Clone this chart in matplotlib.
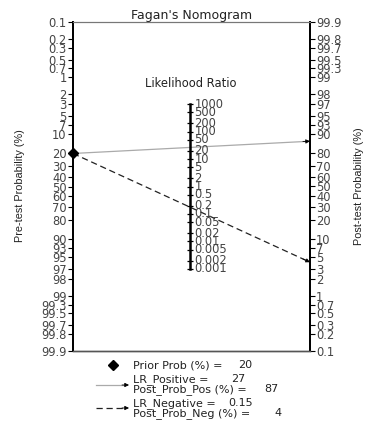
import numpy as np
import matplotlib
matplotlib.use('Agg')
import matplotlib.pyplot as plt

plt.rcParams['font.family'] = ['DejaVu Sans']

# 数据
prior_prob = 20
lr_positive = 27
post_prob_pos = 87
lr_negative = 0.15
post_prob_neg = 4

pre_ticks = [0.1, 0.2, 0.3, 0.5, 0.7, 1, 2, 3, 5, 7, 10, 20, 30, 40, 50, 60, 70, 80,
             90, 93, 95, 97, 98, 99, 99.3, 99.5, 99.7, 99.8, 99.9]
post_ticks = [99.9, 99.8, 99.7, 99.5, 99.3, 99, 98, 97, 95, 93, 90, 80, 70, 60, 50, 40,
              30, 20, 10, 7, 5, 3, 2, 1, 0.7, 0.5, 0.3, 0.2, 0.1]
lr_ticks = [1000, 500, 200, 100, 50, 20, 10, 5, 2, 1, 0.5, 0.2, 0.1, 0.05, 0.02, 0.01,
            0.005, 0.002, 0.001]


def logit(p):
    p = np.asarray(p, dtype=float) / 100.0
    return np.log(p / (1 - p))


def fmt(v):
    return ('%g' % v)


def v_pre(p):
    return -logit(p)


def v_post(p):
    return logit(p)


def v_lr(lr):
    return np.log(np.asarray(lr, dtype=float)) / 2.0


W, H = 366, 422
fig = plt.figure(figsize=(W / 100, H / 100), dpi=100)
ax = fig.add_axes([73 / W, 71 / H, 237 / W, 329 / H])

V = float(logit(99.9))
ax.set_xlim(0, 1)
ax.set_ylim(-V, V)
ax.set_xticks([])

tick_color = '#444444'
txt_color = '#222222'
fs = 8.3

ax.set_yticks(v_pre(pre_ticks))
ax.set_yticklabels([fmt(p) for p in pre_ticks])
ax.tick_params(axis='y', direction='out', length=3.5, width=0.8, labelsize=fs,
               labelcolor=tick_color, pad=1)

ax2 = ax.twinx()
ax2.set_ylim(-V, V)
ax2.set_yticks(v_post(post_ticks))
ax2.set_yticklabels([fmt(p) for p in post_ticks])
ax2.tick_params(axis='y', direction='out', length=3.5, width=0.8, labelsize=fs,
                labelcolor=tick_color, pad=1)

# 轴标题
yc = 1 - 186 / H
fig.text(20 / W, yc, 'Pre-test Probability (%)', rotation=90, fontsize=7.8,
         ha='center', va='center', color=txt_color, family='Liberation Sans')
fig.text(359 / W, yc, 'Post-test Probability (%)', rotation=90, fontsize=7.8,
         ha='center', va='center', color=txt_color, family='Liberation Sans')

for a in (ax, ax2):
    a.spines['top'].set_color('#777777')
    a.spines['bottom'].set_color('#555555')
    a.spines['left'].set_linewidth(1.3)
    a.spines['right'].set_linewidth(1.3)
    a.spines['top'].set_linewidth(0.8)
    a.spines['bottom'].set_linewidth(1.0)

ax.set_title("Fagan's Nomogram", fontsize=9, pad=2, color=txt_color)

# 中间的似然比轴
xm = 0.495
lr_v = v_lr(lr_ticks)
ax.plot([xm, xm], [lr_v.min(), lr_v.max()], color='black', lw=1.8, zorder=3)
ax.hlines(lr_v, xm - 0.012, xm + 0.012, color='black', lw=0.9, zorder=3)
for lr, v in zip(lr_ticks, lr_v):
    ax.text(xm + 0.018, v, fmt(lr), fontsize=fs, color=tick_color,
            ha='left', va='center', zorder=3)
ax.text(xm, v_lr(1000) + 0.6, 'Likelihood Ratio', fontsize=fs, ha='center',
        va='bottom', color=txt_color)

# 连线
y0 = v_pre(prior_prob)
y_pos = v_post(post_prob_pos)
y_neg = v_post(post_prob_neg)
ax.plot([0, 1], [y0, y_pos], color='#aaaaaa', lw=0.9, zorder=2)
ax.plot([0, 1], [y0, y_neg], color='#222222', lw=0.9, dashes=(5, 3), zorder=2)
for y1 in (y_pos, y_neg):
    ax.annotate('', xy=(1, y1), xytext=(0.97, y0 + 0.97 * (y1 - y0)),
                arrowprops=dict(arrowstyle='-|>', color='black', lw=0.6,
                                mutation_scale=6, shrinkA=0, shrinkB=0),
                zorder=4, annotation_clip=False)
ax.plot([0], [y0], marker='D', color='black', ms=5, clip_on=False, zorder=5)

# 图例区域
lg = fig.add_axes([0, 0, 1, 1], zorder=-1)
lg.set_xlim(0, W)
lg.set_ylim(H, 0)
lg.axis('off')
lfs = 8
lg.plot([113], [365], marker='D', color='black', ms=5)
lg.text(133, 365, 'Prior Prob (%) =', fontsize=lfs, va='center', color=txt_color)
lg.text(238, 365, str(prior_prob), fontsize=lfs, va='center', color=txt_color)

lg.plot([96, 124], [385, 385], color='#aaaaaa', lw=0.9)
lg.annotate('', xy=(129, 385), xytext=(122, 385),
            arrowprops=dict(arrowstyle='-|>', color='black', lw=0.6,
                            mutation_scale=6, shrinkA=0, shrinkB=0))
lg.text(133, 380, 'LR_Positive =', fontsize=lfs, va='center', color=txt_color)
lg.text(231, 379.5, str(lr_positive), fontsize=lfs, va='center', color=txt_color)
lg.text(133, 389.5, 'Post_Prob_Pos (%) =', fontsize=lfs, va='center', color=txt_color)
lg.text(264, 389.5, str(post_prob_pos), fontsize=lfs, va='center', color=txt_color)

lg.plot([96, 124], [408, 408], color='#222222', lw=0.9, dashes=(5, 3))
lg.annotate('', xy=(129, 408), xytext=(122, 408),
            arrowprops=dict(arrowstyle='-|>', color='black', lw=0.6,
                            mutation_scale=6, shrinkA=0, shrinkB=0))
lg.text(133, 404, 'LR_Negative =', fontsize=lfs, va='center', color=txt_color)
lg.text(228, 403.5, fmt(lr_negative), fontsize=lfs, va='center', color=txt_color)
lg.text(133, 413.5, 'Post_Prob_Neg (%) =', fontsize=lfs, va='center', color=txt_color)
lg.text(274, 413.5, str(post_prob_neg), fontsize=lfs, va='center', color=txt_color)

fig.savefig('out.png', dpi=100)
